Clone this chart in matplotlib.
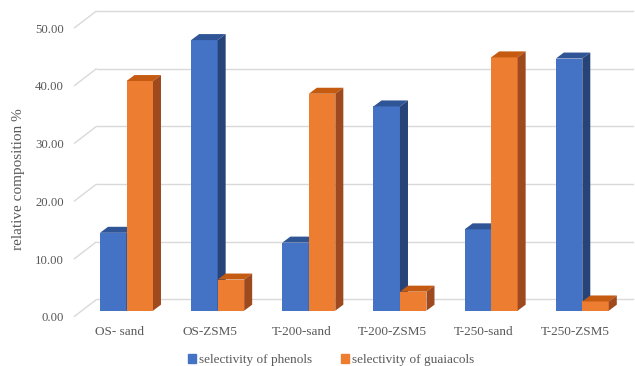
import matplotlib
matplotlib.use("Agg")
import matplotlib.pyplot as plt
from matplotlib.patches import Patch
import numpy as np

categories = ["OS- sand", "OS-ZSM5", "T-200-sand", "T-200-ZSM5", "T-250-sand", "T-250-ZSM5"]
phenols = [13.5, 46.9, 11.8, 35.4, 14.1, 43.7]
guaiacols = [39.8, 5.4, 37.6, 3.3, 43.9, 1.6]
series_names = ["selectivity of phenols", "selectivity of guaiacols"]
yticks = [0, 10, 20, 30, 40, 50]
ylabel = "relative composition %"

plt.rcParams['font.family'] = ['Liberation Serif', 'DejaVu Serif']

W, H = 635, 366
fig = plt.figure(figsize=(W / 100, H / 100), dpi=100)
ax = fig.add_axes([0, 0, 1, 1])
ax.set_axis_off()

# pixel mapping helpers (style/layout)
X0, XS = 126.5, 91.16   # px of first category, px per category
Y0, YS = 310.7, 5.77    # px of value 0 (bar front), px per unit
ax.set_xlim((0 - X0) / XS, (W - X0) / XS)
ax.set_ylim((Y0 - H) / YS, Y0 / YS)

def dxu(px):
    return px / XS

def dyu(px):
    return px / YS

bw = dxu(26.5)
bdx, bdy = dxu(8), dyu(6)           # bar depth
fdx, fdy = dxu(-7.8), dyu(-6)       # front wall relative to bar front
kdx, kdy = dxu(14.9), dyu(11.4)     # back wall relative to bar front
wall_front_x = (74 - X0) / XS
wall_back_x = wall_front_x + (kdx - fdx)
grid_right = (633 - X0) / XS

grid_c = "#d9d9d9"
txt_c = "#595959"

for t in yticks:
    yf = t + fdy
    yb = t + kdy
    ax.plot([wall_front_x, wall_back_x], [yf, yb], color=grid_c, lw=1.0, zorder=1, solid_capstyle='butt')
    ax.plot([wall_back_x, grid_right], [yb, yb], color=grid_c, lw=1.0, zorder=1)
    ax.text((64 - X0) / XS, yf - dyu(1.5), f"{t:.2f}", ha="right", va="center",
            fontsize=9.2, color=txt_c)

colors = {
    0: ("#4472C4", "#2F5597", "#264478"),
    1: ("#ED7D31", "#C55A11", "#9E4A1E"),
}

x = np.arange(len(categories))
z = 2
for i in range(len(categories)):
    for s, vals in enumerate([phenols, guaiacols]):
        front, top, side = colors[s]
        left = x[i] - bw + s * bw
        v = vals[i]
        ax.bar(left, v, width=bw, align='edge', color=front, zorder=z, linewidth=0)
        # top face
        ax.fill([left, left + bw, left + bw + bdx, left + bdx],
                [v, v, v + bdy, v + bdy], color=top, zorder=z + 0.1, linewidth=0)
        # side face
        ax.fill([left + bw, left + bw + bdx, left + bw + bdx, left + bw],
                [0, bdy, v + bdy, v], color=side, zorder=z + 0.1, linewidth=0)
        z += 1

for i, c in enumerate(categories):
    ax.text(x[i] + dxu(-7.5), (Y0 - 331.7) / YS, c, ha="center", va="center",
            fontsize=9.5, color=txt_c)

ax.text((18 - X0) / XS, (Y0 - 179) / YS, ylabel, rotation=90, ha="center", va="center",
        fontsize=11, color=txt_c)

handles = [Patch(color=colors[0][0]), Patch(color=colors[1][0])]
leg = fig.legend(handles, series_names, loc="center", bbox_to_anchor=(331 / W, 1 - 360 / H),
                 ncol=2, frameon=False, fontsize=9.5, handlelength=0.6, handleheight=0.6,
                 handletextpad=0.2, columnspacing=2.2, borderpad=0)
for t in leg.get_texts():
    t.set_color(txt_c)

fig.savefig("out.png", dpi=100)
